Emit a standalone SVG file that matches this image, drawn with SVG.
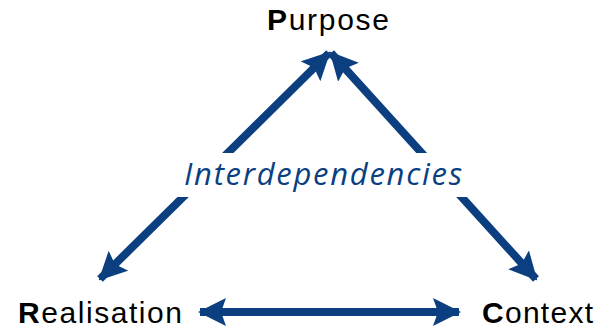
<svg xmlns="http://www.w3.org/2000/svg" width="609" height="329" viewBox="0 0 609 329">
  <style>
    .lbl { font-family: "Liberation Sans", Arial, sans-serif; font-size: 30px; fill: #000; }
    .lbl tspan.b { font-weight: bold; }
    .mid { font-family: "Open Sans", "Noto Sans", sans-serif; font-style: italic; font-size: 31px; fill: #0b3f7f; }
    .arr { stroke: #0b3f7f; stroke-width: 8; fill: none; marker-start: url(#head); marker-end: url(#head); }
  </style>
  <defs>
    <marker id="head" markerUnits="userSpaceOnUse" viewBox="0 0 28 28" refX="26" refY="14" markerWidth="28" markerHeight="28" orient="auto-start-reverse">
      <path d="M0,0 L28,14 L0,28 L5,14 Z" fill="#0b3f7f"/>
    </marker>
  </defs>
  <g id="connectors">
    <line class="arr" x1="329" y1="53" x2="100" y2="279"/>
    <line class="arr" x1="331" y1="53" x2="536" y2="279"/>
    <line class="arr" x1="200" y1="312" x2="459" y2="312"/>
  </g>
  <g id="purpose">
    <text class="lbl" x="267" y="30" textLength="122" lengthAdjust="spacing"><tspan class="b">P</tspan>urpose</text>
  </g>
  <g id="realisation">
    <text class="lbl" x="18" y="323" textLength="164" lengthAdjust="spacing"><tspan class="b">R</tspan>ealisation</text>
  </g>
  <g id="context">
    <text class="lbl" x="482" y="323" textLength="111" lengthAdjust="spacing"><tspan class="b">C</tspan>ontext</text>
  </g>
  <g id="interdependencies">
    <rect x="172" y="153" width="300" height="44" fill="#fff"/>
    <text class="mid" x="184" y="185" textLength="278" lengthAdjust="spacing">Interdependencies</text>
  </g>
</svg>
